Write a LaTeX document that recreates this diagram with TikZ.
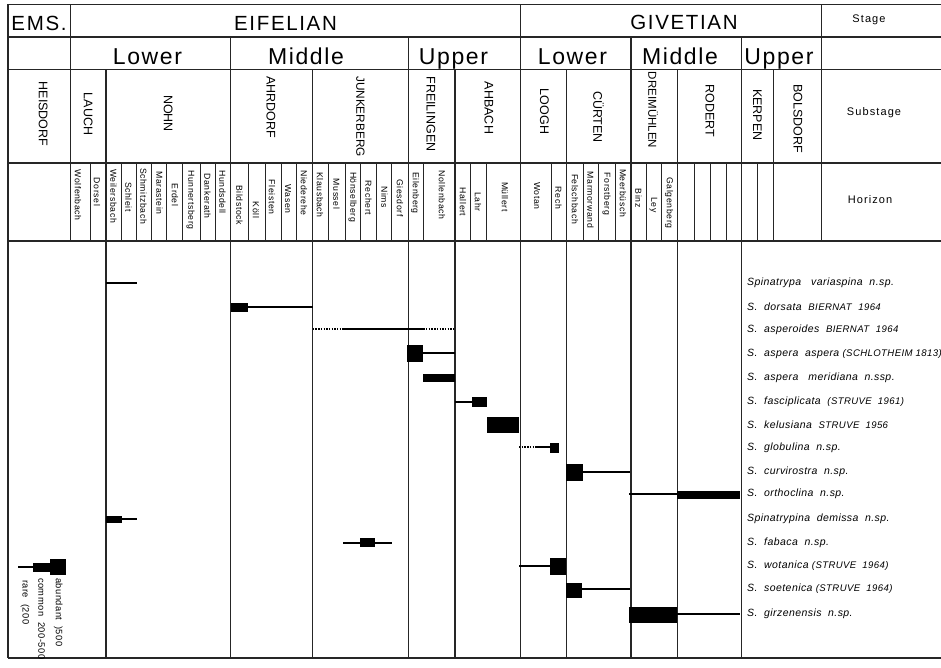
\documentclass[tikz,border=0pt]{standalone}
\usepackage{fontspec}
\setmainfont{Liberation Sans}
\newcommand{\kap}[1]{{\fontsize{9.6}{10}\selectfont #1}}
\begin{document}
\begin{tikzpicture}[x=1pt,y=-1pt,
  grid/.style={line width=1.3pt, draw=black!85},
  fine/.style={line width=0.9pt, draw=black!85},
  rng/.style={line width=1.8pt},
  dots/.style={line width=1.8pt, dash pattern=on 1.4pt off 1.3pt},
  blk/.style={fill=black},
  stg/.style={font=\fontsize{20.5}{20.5}\selectfont\addfontfeature{LetterSpace=8}, anchor=base, inner sep=0pt},
  sub/.style={font=\fontsize{23}{23}\selectfont\addfontfeature{LetterSpace=7}, anchor=base, inner sep=0pt},
  ss/.style={font=\fontsize{12.5}{12.5}\selectfont, rotate=-90, inner sep=0pt},
  hz/.style={font=\fontsize{8.7}{8.7}\selectfont\addfontfeature{LetterSpace=7}, rotate=-90, inner sep=0pt},
  lab/.style={font=\fontsize{10.5}{10.5}\selectfont\itshape\addfontfeature{LetterSpace=4}, anchor=west, inner sep=0pt},
  colhd/.style={font=\fontsize{11}{11}\selectfont\addfontfeature{LetterSpace=10}, inner sep=0pt},
  leg/.style={font=\fontsize{9.3}{9.3}\selectfont\addfontfeature{LetterSpace=5}, rotate=-90, anchor=west, inner sep=0pt}]
\useasboundingbox[fill=white] (0,0) rectangle (941,668);
% horizontal rules
\foreach \yy in {4.5,37,69.5,163,241,658} \draw[grid] (8,\yy) -- (941,\yy);
% vertical rules
\draw[grid] (8,4.5) -- (8,658);
\foreach \xx in {70.7,821.7} \draw[grid] (\xx,4.5) -- (\xx,241);
\draw[grid] (520.7,4.5) -- (520.7,658);
\foreach \xx in {230.7,408.3,631,741.7} \draw[grid] (\xx,37) -- (\xx,658);
\foreach \xx in {106,312.7,455,566.7,677.3} \draw[grid] (\xx,69.5) -- (\xx,658);
\draw[grid] (773.3,69.5) -- (773.3,241);
\foreach \xx in {90,121.7,136.7,151.7,166.7,182.7,200,215,248,265,281,296.7,328,345,360,376.7,391.7,423.3,470,486,551.7,583.3,598.3,615,646.7,661.7,694,710,726,757.3}
  \draw[fine] (\xx,163) -- (\xx,241);
% stage row
\node[stg] (ems) at (39,31) {EMS.};
\node[stg] (eif) at (285.5,31) {EIFELIAN};
\node[stg] (giv) at (684,30) {GIVETIAN};
\node[colhd, anchor=base] (stage) at (869,22.5) {Stage};
% sub-stage groups
\node[sub] (el) at (147.5,65) {Lower};
\node[sub] (em) at (306,65) {Middle};
\node[sub] (eu) at (453.5,65) {Upper};
\node[sub] (gl) at (572.5,65) {Lower};
\node[sub] (gm) at (680,65) {Middle};
\node[sub] (gu) at (779,65) {Upper};
% substages
\node[ss] (heis) at (43.3,114) {HEISDORF};
\node[ss] (lauch) at (88.3,114) {LAUCH};
\node[ss] (nohn) at (168.3,113.5) {NOHN};
\node[ss] (ahrd) at (271,107) {AHRDORF};
\node[ss, font=\fontsize{11.8}{11.8}\selectfont] (junk) at (360.5,116.5) {JUNKERBERG};
\node[ss] (frei) at (431,114) {FREILINGEN};
\node[ss] (ahb) at (489,108) {AHBACH};
\node[ss] (loogh) at (544.5,111.5) {LOOGH};
\node[ss] (cuert) at (598.5,117) {CÜRTEN};
\node[ss, font=\fontsize{11.5}{11.5}\selectfont] (dreim) at (653,110) {DREIMÜHLEN};
\node[ss] (rod) at (710,111) {RODERT};
\node[ss] (kerp) at (757.5,115) {KERPEN};
\node[ss] (bols) at (798,118.5) {BOLSDORF};
\node[colhd] (substage) at (874,113) {Substage};
% horizons
\node[hz] (h1) at (78,195) {Wolfenbach};
\node[hz] (h2) at (97,192) {Dorsel};
\node[hz] (h3) at (113.5,196) {Weilersbach};
\node[hz] (h4) at (128.5,197) {Schleit};
\node[hz] (h5) at (143.5,196) {Schmitzbach};
\node[hz] (h6) at (159.5,193) {Marastein};
\node[hz] (h7) at (175,195) {Erdel};
\node[hz] (h8) at (190.5,200) {Hunnertsberg};
\node[hz] (h9) at (207.5,196) {Dankerath};
\node[hz] (h10) at (222.5,192) {Hundsdell};
\node[hz] (h11) at (239.5,205) {Bildstock};
\node[hz] (h12) at (256,210) {Köll};
\node[hz] (h13) at (272,197) {Fleisten};
\node[hz] (h14) at (288,199) {Wasen};
\node[hz] (h15) at (304,193) {Niederehe};
\node[hz] (h16) at (320,195) {Klausbach};
\node[hz] (h17) at (336.5,194) {Mussel};
\node[hz] (h18) at (352.5,197) {Hönselberg};
\node[hz] (h19) at (368.5,198) {Rechert};
\node[hz] (h20) at (384.5,197) {Nims};
\node[hz] (h21) at (400,198) {Giesdorf};
\node[hz] (h22) at (415,193) {Eilenberg};
\node[hz] (h23) at (442,195) {Nollenbach};
\node[hz] (h24) at (463,202) {Hallert};
\node[hz] (h25) at (478,202) {Lahr};
\node[hz] (h26) at (505,197) {Müllert};
\node[hz] (h27) at (537,196) {Wotan};
\node[hz] (h28) at (558.5,198) {Rech};
\node[hz] (h29) at (575,199) {Felschbach};
\node[hz] (h30) at (590.5,200) {Marmorwand};
\node[hz] (h31) at (606.5,194) {Forstberg};
\node[hz] (h32) at (623,193) {Meerbüsch};
\node[hz] (h33) at (638.5,198) {Binz};
\node[hz] (h34) at (653.5,205) {Ley};
\node[hz] (h35) at (669,203) {Galgenberg};
\node[colhd] (horizon) at (870,200) {Horizon};
% species labels
\node[lab] (s1) at (747,283) {Spinatrypa\ \ \ variaspina\ \ n.sp.};
\node[lab] (s2) at (747,307) {S.\ \ dorsata\ \ \kap{BIERNAT}\ \ \kap{1964}};
\node[lab] (s3) at (747,330) {S.\ \ asperoides\ \ \kap{BIERNAT}\ \ \kap{1964}};
\node[lab] (s4) at (747,354) {S.\ \ aspera\ \ aspera \kap{(SCHLOTHEIM\ 1813)}};
\node[lab] (s5) at (747,377.7) {S.\ \ aspera\ \ \ meridiana\ \ n.ssp.};
\node[lab] (s6) at (747,401.7) {S.\ \ fasciplicata\ \ \kap{(STRUVE\ \ 1961)}};
\node[lab] (s7) at (747,425) {S.\ \ kelusiana\ \ \kap{STRUVE\ \ 1956}};
\node[lab] (s8) at (747,447.3) {S.\ \ globulina\ \ n.sp.};
\node[lab] (s9) at (747,471.7) {S.\ \ curvirostra\ \ n.sp.};
\node[lab] (s10) at (747,494) {S.\ \ orthoclina\ \ n.sp.};
\node[lab] (s11) at (747,519) {Spinatrypina\ \ demissa\ \ n.sp.};
\node[lab] (s12) at (747,542.7) {S.\ \ fabaca\ \ n.sp.};
\node[lab] (s13) at (747,566) {S.\ \ wotanica\ \kap{(STRUVE\ \ 1964)}};
\node[lab] (s14) at (747,589) {S.\ \ soetenica\ \kap{(STRUVE\ \ 1964)}};
\node[lab] (s15) at (747,614) {S.\ \ girzenensis\ \ n.sp.};
% range bars
\draw[rng] (106,283.3) -- (136.7,283.3);
\fill[blk] (230.7,302.7) rectangle (248.3,311.7);
\draw[rng] (248.3,307.3) -- (312.7,307.3);
\draw[dots] (312.7,329.3) -- (343.3,329.3);
\draw[rng] (343.3,329.3) -- (423.3,329.3);
\draw[dots] (423.3,329.3) -- (455,329.3);
\fill[blk] (407.3,345) rectangle (423.3,361.7);
\draw[rng] (423.3,353.3) -- (455,353.3);
\fill[blk] (422.7,374) rectangle (455,382);
\draw[rng] (455,401.7) -- (471.7,401.7);
\fill[blk] (471.7,396.7) rectangle (487.3,406.7);
\fill[blk] (486.7,416.7) rectangle (519,432.7);
\draw[dots] (519,447.3) -- (535,447.3);
\draw[rng] (535,447.3) -- (550,447.3);
\fill[blk] (550,443.3) rectangle (559.3,452.7);
\fill[blk] (566,464.3) rectangle (582.7,481);
\draw[rng] (582.7,471.7) -- (630,471.7);
\draw[rng] (629.3,494) -- (677.3,494);
\fill[blk] (677.3,491) rectangle (740,499.3);
\fill[blk] (106,516) rectangle (121.7,523.3);
\draw[rng] (121.7,519.3) -- (136.7,519.3);
\draw[rng] (343.3,542.7) -- (391.7,542.7);
\fill[blk] (360,538.3) rectangle (375,547.3);
\draw[rng] (519,566) -- (550,566);
\fill[blk] (550,558.3) rectangle (566,575);
\fill[blk] (566,582.7) rectangle (581.7,598.3);
\draw[rng] (581.7,589) -- (630,589);
\fill[blk] (629.3,606.7) rectangle (677.3,622.7);
\draw[rng] (677.3,614) -- (740,614);
% legend
\draw[rng] (18.3,566.7) -- (33.3,566.7);
\fill[blk] (33.3,562.7) rectangle (50,571.7);
\fill[blk] (50,559.3) rectangle (66,575);
\node[leg] (la) at (58.3,578) {abundant\ \ )500};
\node[leg] (lc) at (41.7,578) {common\ \ 200-500};
\node[leg] (lr) at (25,580) {rare\ \ (200};
\end{tikzpicture}
\end{document}
